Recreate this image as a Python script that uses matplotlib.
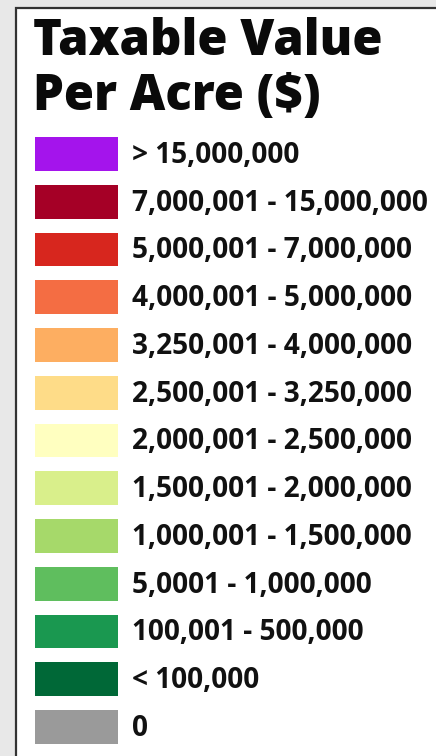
import matplotlib
matplotlib.use("Agg")
import matplotlib.pyplot as plt
import numpy as np
from matplotlib.patches import Rectangle

title_lines = ["Taxable Value", "Per Acre ($)"]
labels = ["> 15,000,000", "7,000,001 - 15,000,000", "5,000,001 - 7,000,000",
          "4,000,001 - 5,000,000", "3,250,001 - 4,000,000", "2,500,001 - 3,250,000",
          "2,000,001 - 2,500,000", "1,500,001 - 2,000,000", "1,000,001 - 1,500,000",
          "5,0001 - 1,000,000", "100,001 - 500,000", "< 100,000", "0"]
colors = ["#A414EC", "#A50026", "#D7261E", "#F46D43", "#FDAE61", "#FEDC88",
          "#FFFFC0", "#D9EF8B", "#A6D96A", "#5FBE5E", "#1A9850", "#006837", "#9A9A9A"]

W, H = 436, 756
fig = plt.figure(figsize=(W/100, H/100), dpi=100)
fig.patch.set_facecolor("#e8e8e8")

# legend box (behind axes)
fig.patches.append(Rectangle((16/W, -0.01), 1, 1.01 - 8/H, transform=fig.transFigure,
                             facecolor="white", edgecolor="#333333", linewidth=1.6,
                             zorder=-5))

ax = fig.add_axes([0, 0, 1, 1])
ax.set_zorder(5)
ax.patch.set_alpha(0)
ax.set_xlim(0, W)
row_px = 47.75
first_px = 154
top = -first_px / row_px
ax.set_ylim((H - first_px) / row_px, top)
ax.axis("off")

y = np.arange(len(labels))
ax.barh(y, 83, left=35, height=0.71, color=colors, zorder=3)
for yi, lab in zip(y, labels):
    ax.text(132, yi + 0.03, lab, fontsize=20.2, fontweight="bold", family="Open Sans",
            va="center", ha="left", color="#111111", zorder=4)

for i, line in enumerate(title_lines):
    ax.text(33, top + (55 + 55 * i) / row_px, line, fontsize=35.3, fontweight="heavy",
            family="Open Sans", va="baseline", ha="left", color="#0a0a0a")

fig.savefig("out.png", dpi=100)
